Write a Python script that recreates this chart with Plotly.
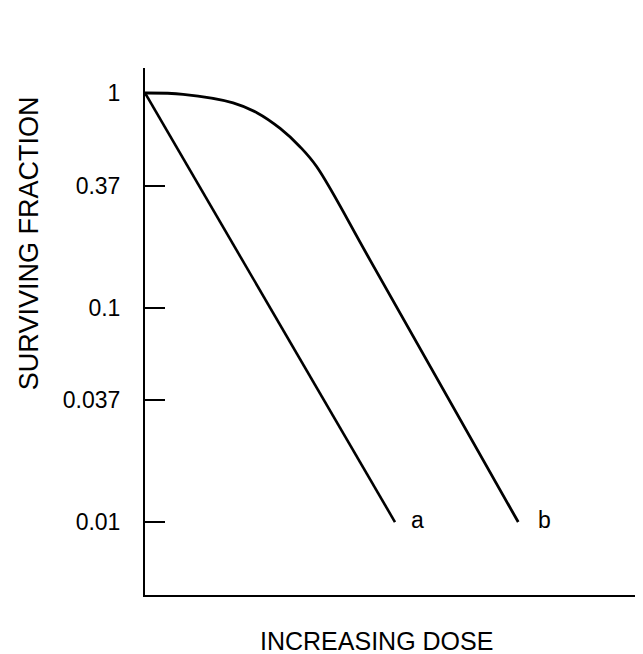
import math
import plotly.graph_objects as go

# Data (dose in arbitrary units, surviving fraction on log scale)
dose_a = [0.0, 5.05]
surv_a = [1.0, 0.01]

dose_b = [0.0, 0.77, 1.78, 2.26, 2.73, 3.13, 3.47, 4.55, 7.54]
surv_b = [1.0, 0.986, 0.90, 0.81, 0.684, 0.562, 0.453, 0.166, 0.01]

tick_vals = [0.01, 0.037, 0.1, 0.37, 1]
tick_text = ["0.01", "0.037", "0.1", "0.37", "1"]

FONT = "Liberation Sans, Arial, Helvetica, sans-serif"

fig = go.Figure()
fig.add_trace(go.Scatter(x=dose_a, y=surv_a, mode="lines",
                         line=dict(color="black", width=2.6), showlegend=False))
fig.add_trace(go.Scatter(x=dose_b, y=surv_b, mode="lines",
                         line=dict(color="black", width=2.8, shape="spline", smoothing=1.0),
                         showlegend=False))

fig.add_annotation(x=dose_a[-1], y=math.log10(surv_a[-1]), text="a", showarrow=False,
                   xanchor="left", xshift=14, yshift=2,
                   font=dict(size=23, color="black", family=FONT))
fig.add_annotation(x=dose_b[-1], y=math.log10(surv_b[-1]), text="b", showarrow=False,
                   xanchor="left", xshift=18, yshift=2,
                   font=dict(size=23, color="black", family=FONT))

fig.add_annotation(xref="paper", yref="paper", x=0.467, y=-0.087,
                   xanchor="center", yanchor="middle",
                   text="INCREASING DOSE", showarrow=False,
                   font=dict(size=25, color="black", family=FONT))
fig.add_annotation(xref="paper", yref="paper", x=-0.234, y=0.668, textangle=-90,
                   xanchor="center", yanchor="middle",
                   text="SURVIVING FRACTION", showarrow=False,
                   font=dict(size=27, color="black", family=FONT))

fig.update_layout(
    width=635, height=646,
    margin=dict(l=137, r=3, t=60, b=59),
    paper_bgcolor="white", plot_bgcolor="white",
    font=dict(family=FONT, color="black", size=23),
    xaxis=dict(range=[0, 10], showline=True, linecolor="black", linewidth=2,
               showgrid=False, zeroline=False, showticklabels=False, ticks=""),
    yaxis=dict(type="log", range=[-2.340, 0.1166], showline=True, linecolor="black",
               linewidth=2, showgrid=False, zeroline=False,
               tickvals=tick_vals, ticktext=tick_text,
               ticks="inside", ticklen=20, tickwidth=1.5, tickcolor="black",
               ticklabelstandoff=18, tickfont=dict(size=23)),
)

fig.write_html("out.html")
